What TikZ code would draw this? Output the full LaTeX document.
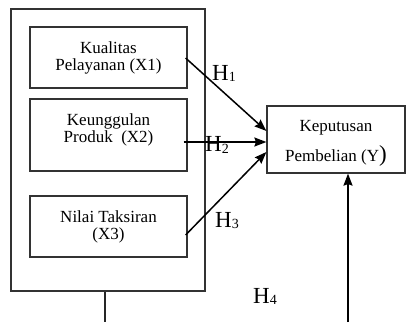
\documentclass[tikz,border=0pt]{standalone}
\usepackage{fontspec}
\setmainfont{Liberation Serif}
\usetikzlibrary{arrows.meta,calc}
\begin{document}
\begin{tikzpicture}[x=1pt,y=1pt,
  frame/.style={draw=black!80, line width=1.2pt, inner sep=0pt},
  txt/.style={align=center, inner sep=0pt, font=\fontsize{17}{17}\selectfont},
  hlab/.style={anchor=base west, inner sep=0pt, font=\fontsize{23}{23}\selectfont},
  sub/.style={},
  arr/.style={line width=1.5pt, -{Stealth[length=12pt,width=9pt,inset=1.5pt]}},
  plain/.style={line width=1.4pt, draw=black!85}]
\useasboundingbox (0,0) rectangle (406,322);
% boxes
\node[frame, minimum width=194pt, minimum height=282pt] (outer) at (108,172) {};
\node[frame, minimum width=157pt, minimum height=61pt] (x1) at (108.5,264.5) {};
\node[frame, minimum width=157pt, minimum height=72pt] (x2) at (108.5,187) {};
\node[frame, minimum width=157pt, minimum height=61pt] (x3) at (108.5,95.5) {};
\node[frame, minimum width=138pt, minimum height=67pt] (y) at (336,182.5) {};
% texts
\node[txt] (x1t) at (108.5,264.3) {Kualitas\\Pelayanan (X1)};
\node[txt] (x2t) at (108.5,192.3) {Keunggulan\\Produk\ \ (X2)};
\node[txt] (x3t) at (108.5,95.3) {Nilai Taksiran\\(X3)};
\node[txt, font=\fontsize{17}{30}\selectfont] (yt) at (336,178.3) {Keputusan\\Pembelian (Y{\fontsize{23}{23}\selectfont)}};
% arrows
\draw[arr] ($(x1.east)+(-2,-0.5)$) -- ($(y.west)+(0,8.5)$);
\draw[arr] ($(x2.east)+(-4,-7)$) -- ($(y.west)+(0,-2.5)$);
\draw[arr] ($(x3.east)+(-2,-8.5)$) -- ($(y.west)+(0,-12.5)$);
\coordinate (b1) at (105,0);
\coordinate (b2) at (348,0);
\draw[plain] (outer.south -| b1) -- (b1);
\draw[arr] (b2) -- (b2 |- y.south);
% labels
\node[hlab] (h1) at (212,242) {H\raisebox{-1.5pt}{\fontsize{14}{14}\selectfont 1}};
\node[hlab] (h2) at (205,170.5) {H\raisebox{-1.5pt}{\fontsize{14}{14}\selectfont 2}};
\node[hlab] (h3) at (215,95) {H\raisebox{-1.5pt}{\fontsize{14}{14}\selectfont 3}};
\node[hlab] (h4) at (253,19) {H\raisebox{-1.5pt}{\fontsize{14}{14}\selectfont 4}};
\end{tikzpicture}
\end{document}
